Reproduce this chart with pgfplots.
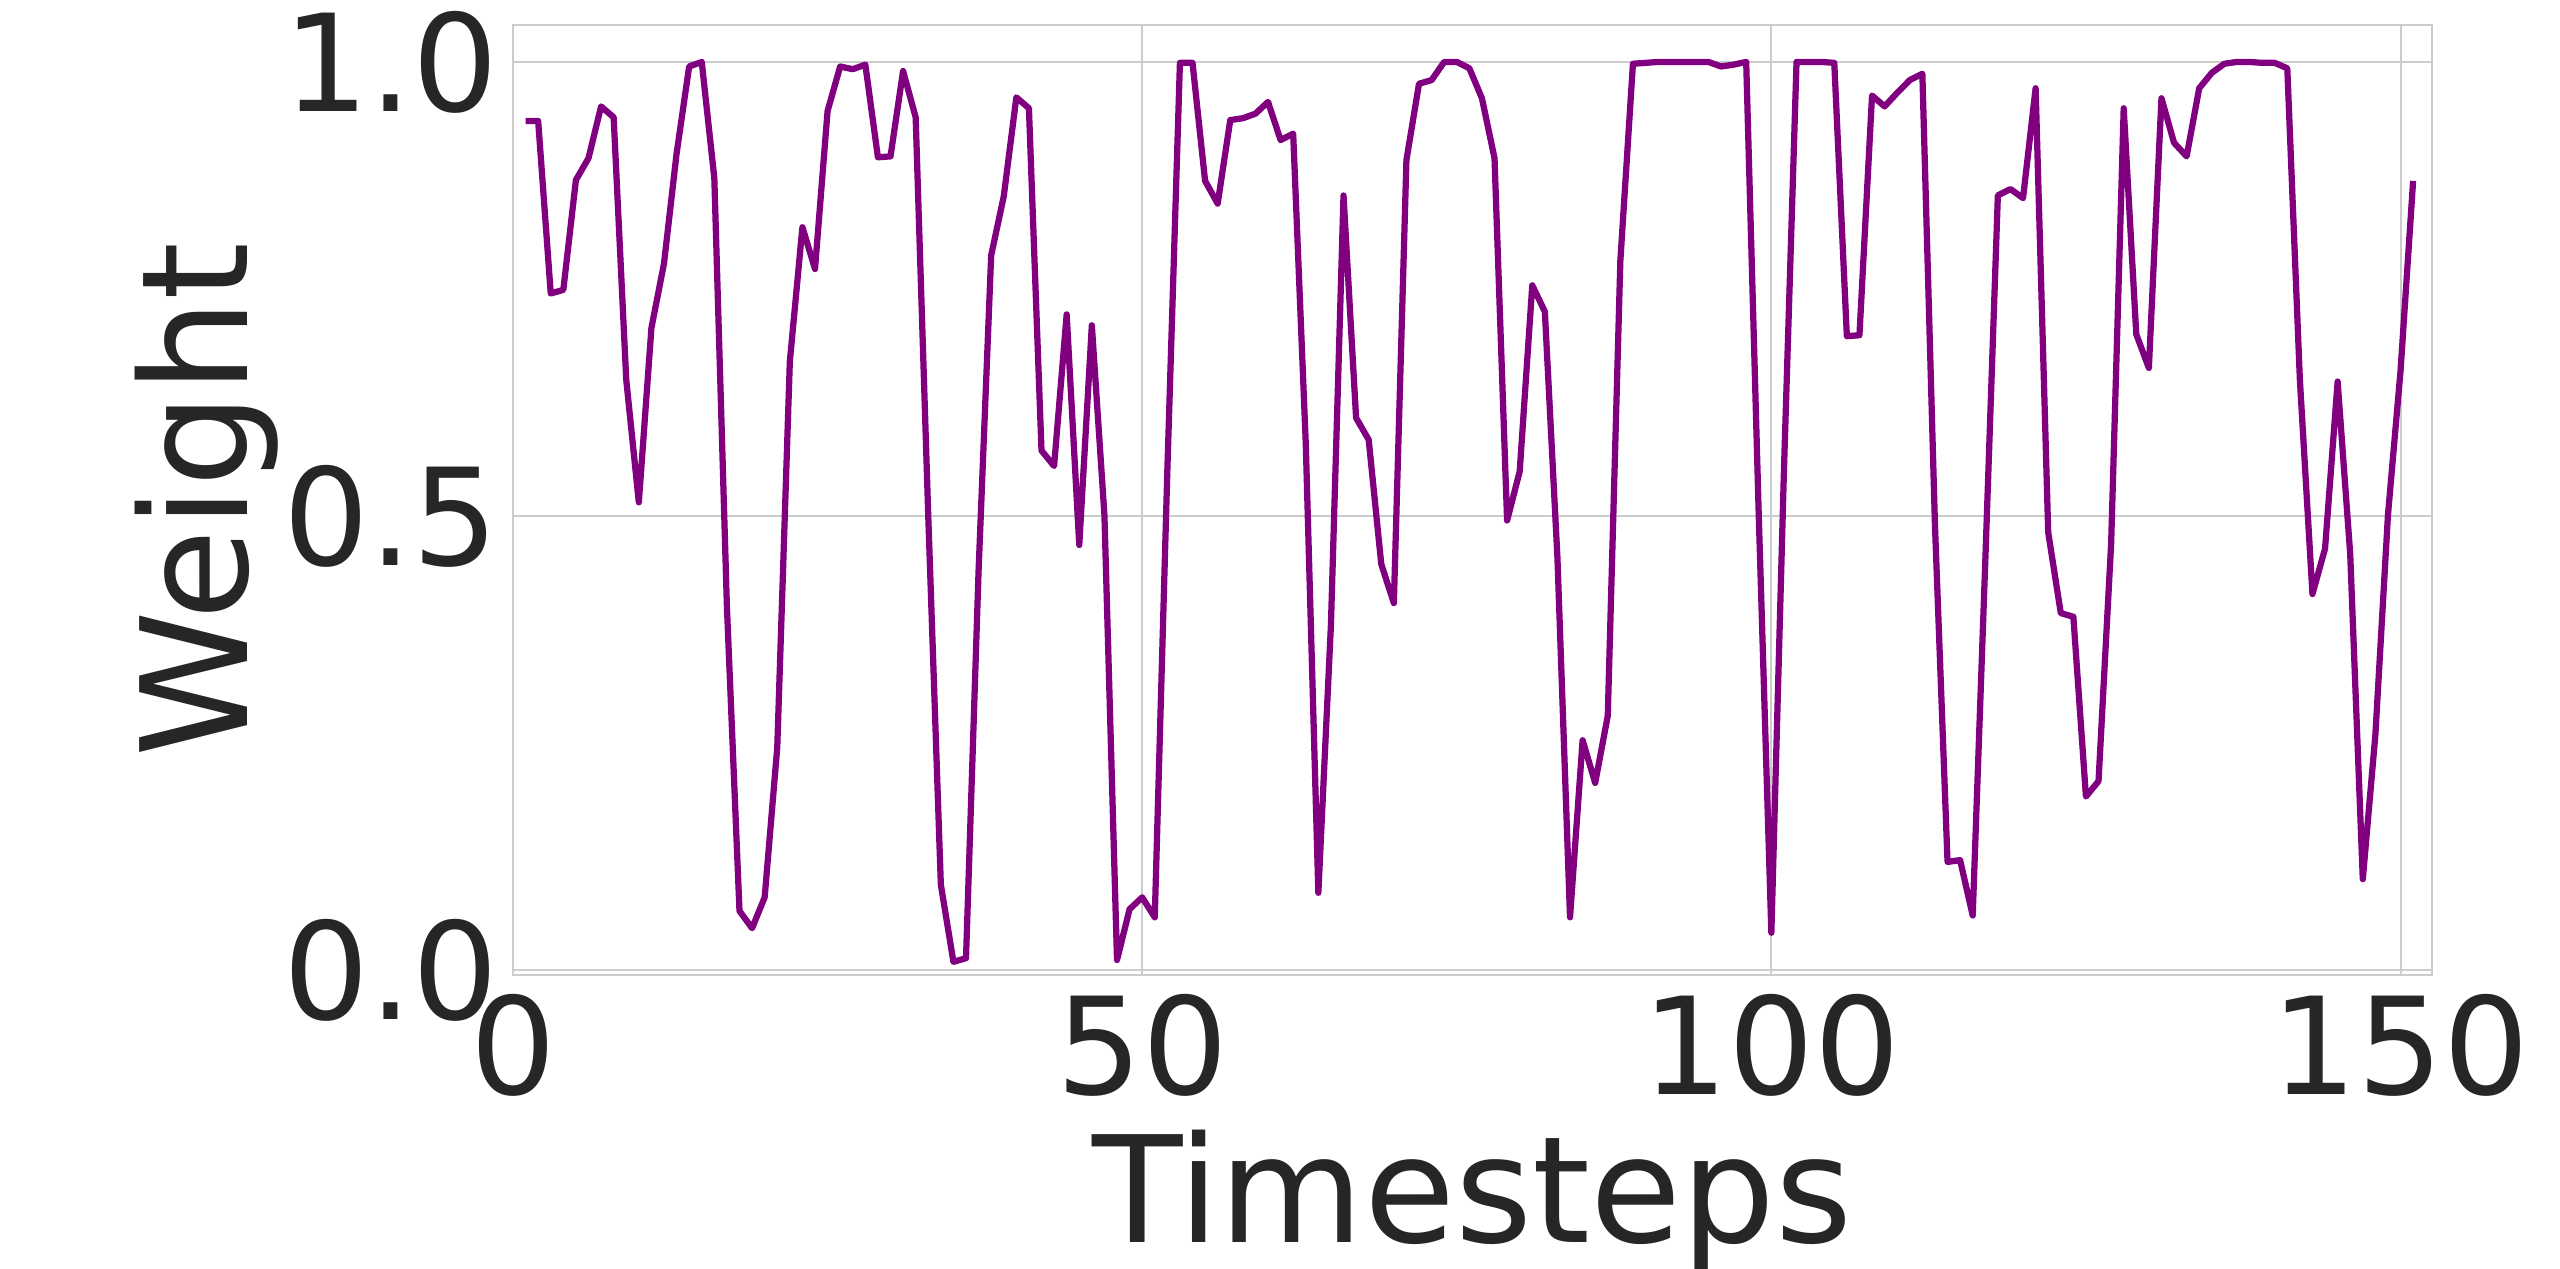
\documentclass[border=0pt]{standalone}
\usepackage{pgfplots}
\pgfplotsset{compat=1.18}
\usepackage{pgfplotstable}
\usepackage{fontspec}
\setmainfont{DejaVu Sans}

\definecolor{txtgray}{HTML}{262626}
\definecolor{gridgray}{HTML}{CCCCCC}
\definecolor{linepurple}{HTML}{800080}

% weight per timestep
\pgfplotstableread{
t w
1 0.935
2 0.935
3 0.745
4 0.749
5 0.870
6 0.894
7 0.951
8 0.939
9 0.650
10 0.515
11 0.707
12 0.778
13 0.899
14 0.995
15 1.000
16 0.872
17 0.400
18 0.065
19 0.046
20 0.080
21 0.245
22 0.670
23 0.818
24 0.772
25 0.946
26 0.995
27 0.992
28 0.997
29 0.895
30 0.896
31 0.990
32 0.939
33 0.500
34 0.094
35 0.009
36 0.013
37 0.440
38 0.787
39 0.852
40 0.961
41 0.949
42 0.572
43 0.555
44 0.722
45 0.468
46 0.710
47 0.501
48 0.011
49 0.067
50 0.080
51 0.058
52 0.550
53 0.999
54 0.999
55 0.869
56 0.844
57 0.936
58 0.938
59 0.943
60 0.956
61 0.914
62 0.921
63 0.580
64 0.085
65 0.380
66 0.853
67 0.608
68 0.584
69 0.447
70 0.404
71 0.892
72 0.976
73 0.980
74 1.000
75 1.000
76 0.993
77 0.960
78 0.894
79 0.495
80 0.549
81 0.754
82 0.725
83 0.454
84 0.058
85 0.253
86 0.206
87 0.280
88 0.781
89 0.998
90 0.999
91 1.000
92 1.000
93 1.000
94 1.000
95 1.000
96 0.995
97 0.997
98 1.000
99 0.500
100 0.041
101 0.550
102 1.000
103 1.000
104 1.000
105 0.999
106 0.698
107 0.699
108 0.963
109 0.951
110 0.966
111 0.980
112 0.987
113 0.490
114 0.119
115 0.121
116 0.060
117 0.450
118 0.853
119 0.860
120 0.850
121 0.971
122 0.482
123 0.393
124 0.389
125 0.191
126 0.208
127 0.469
128 0.949
129 0.700
130 0.663
131 0.960
132 0.911
133 0.896
134 0.971
135 0.988
136 0.998
137 1.000
138 1.000
139 0.999
140 0.999
141 0.993
142 0.650
143 0.414
144 0.464
145 0.648
146 0.458
147 0.100
148 0.259
149 0.501
150 0.660
151 0.869
}\weights

\begin{document}
\begin{tikzpicture}
% page frame: 2560 x 1269 px at 0.2pt per px, axis box at origin
\useasboundingbox (-102.6pt,-58.8pt) rectangle (409.4pt,195pt);
\begin{axis}[
    at={(0,0)}, anchor=south west,
    scale only axis,
    width=383.8pt, height=190pt,
    xmin=0, xmax=152.5,
    ymin=-0.0055, ymax=1.0407,
    xtick={0,50,100,150},
    ytick={0,0.5,1.0},
    yticklabel style={/pgf/number format/fixed, /pgf/number format/fixed zerofill, /pgf/number format/precision=1},
    /pgf/number format/assume math mode=true,
    tick style={draw=none},
    grid=major,
    major grid style={gridgray, line width=0.4pt},
    axis line style={gridgray, line width=0.5pt},
    tick label style={font=\fontsize{27}{27}\selectfont, text=txtgray, inner sep=0pt},
    xticklabel style={yshift=-3.6pt},
    yticklabel style={xshift=-2.8pt},
    label style={font=\fontsize{29.6}{29.6}\selectfont, text=txtgray, inner sep=0pt},
    xlabel={Timesteps},
    ylabel={Weight},
    xlabel style={at={(axis description cs:0.5,-0.2821)}, anchor=base},
    ylabel style={at={(axis description cs:-0.1386,0.5)}, anchor=base},
]
\addplot[linepurple, line width=1.25pt, line join=round] table[x=t, y=w] {\weights};
\end{axis}
\end{tikzpicture}
\end{document}
